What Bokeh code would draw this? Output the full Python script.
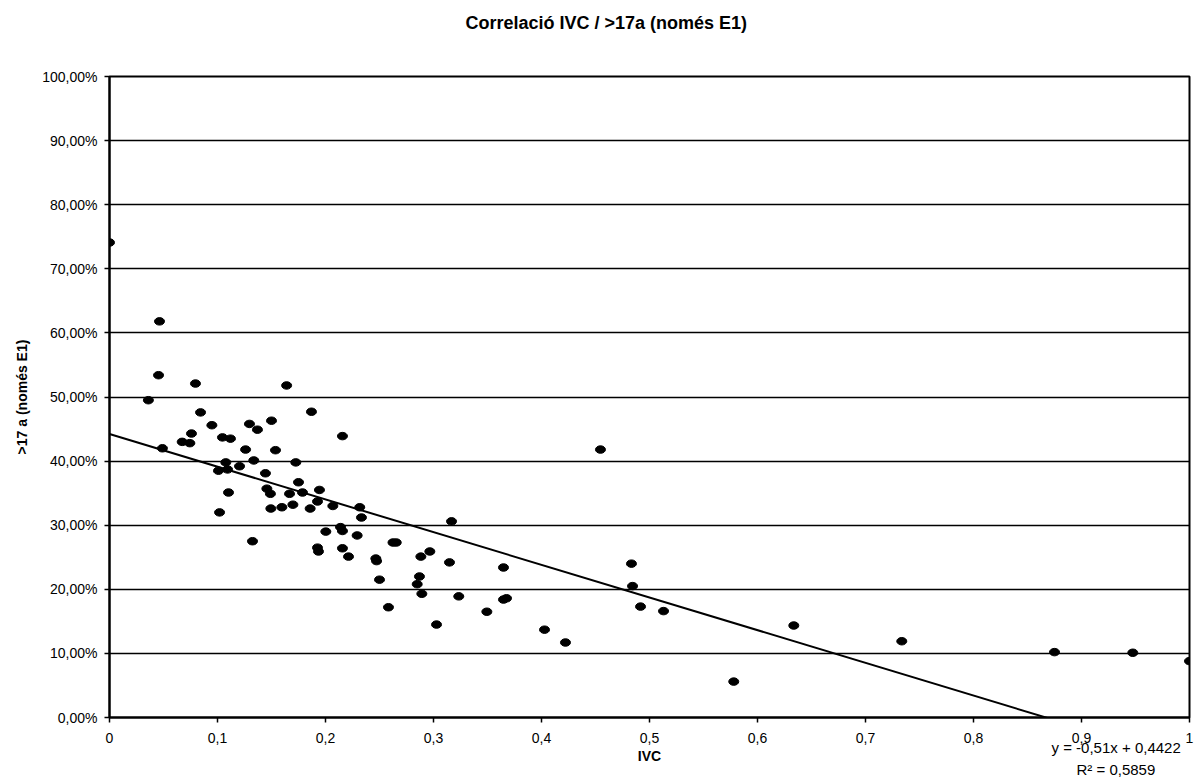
from bokeh.plotting import figure
from bokeh.models import Title, FixedTicker, CustomJSTickFormatter, Range1d
from bokeh.embed import file_html
from bokeh.resources import INLINE

# ---- data ----
ivc = [
    0.0000, 0.0463, 0.0454, 0.0796, 0.1640, 0.0360, 0.0843, 0.1870, 0.0948, 0.1296,
    0.1370, 0.1500, 0.2157, 0.0759, 0.0673, 0.0744, 0.0490, 0.1046, 0.1120, 0.1260,
    0.1537, 0.1077, 0.1336, 0.1725, 0.1009, 0.1093, 0.1204, 0.1444, 0.1750, 0.1457,
    0.1490, 0.1667, 0.1787, 0.1944, 0.1102, 0.1926, 0.2068, 0.1494, 0.1596, 0.1698,
    0.1858, 0.1019, 0.2139, 0.2157, 0.2003, 0.1324, 0.1926, 0.1935, 0.2157, 0.2213,
    0.2293, 0.2333, 0.2317, 0.2466, 0.2473, 0.2500, 0.2583, 0.2625, 0.2655, 0.3167,
    0.2883, 0.2966, 0.3148, 0.3648, 0.2870, 0.2849, 0.2892, 0.3234, 0.3648, 0.3676,
    0.3494, 0.3028, 0.4028, 0.4222, 0.4546, 0.4833, 0.4843, 0.4917, 0.5130, 0.5780,
    0.6336, 0.7336, 0.8750, 0.9475, 1.0000,
]
adults_17 = [
    0.741, 0.618, 0.534, 0.521, 0.518, 0.495, 0.476, 0.477, 0.456, 0.458,
    0.449, 0.463, 0.439, 0.443, 0.430, 0.428, 0.420, 0.437, 0.435, 0.418,
    0.417, 0.398, 0.401, 0.398, 0.385, 0.387, 0.392, 0.381, 0.367, 0.357,
    0.349, 0.349, 0.351, 0.355, 0.351, 0.337, 0.330, 0.326, 0.328, 0.332,
    0.326, 0.320, 0.297, 0.291, 0.290, 0.275, 0.265, 0.259, 0.264, 0.251,
    0.284, 0.312, 0.328, 0.248, 0.244, 0.215, 0.172, 0.273, 0.273, 0.306,
    0.251, 0.259, 0.242, 0.234, 0.220, 0.208, 0.193, 0.189, 0.184, 0.186,
    0.165, 0.145, 0.137, 0.117, 0.418, 0.240, 0.205, 0.173, 0.166, 0.056,
    0.1435, 0.119, 0.102, 0.101, 0.088,
]
trend_slope = -0.51
trend_intercept = 0.4422
trend_x = [0.0, 1.0]
x_ticks = [0, 0.1, 0.2, 0.3, 0.4, 0.5, 0.6, 0.7, 0.8, 0.9, 1]
y_ticks = [0, 0.1, 0.2, 0.3, 0.4, 0.5, 0.6, 0.7, 0.8, 0.9, 1.0]
title_text = "Correlació IVC / >17a (només E1)"
x_title = "IVC"
y_title = ">17 a (només E1)"
eq_text = "y = -0,51x + 0,4422"
r2_text = "R² = 0,5859"

FONT = "Liberation Sans"

p = figure(width=1195, height=780, x_range=Range1d(0, 1), y_range=Range1d(0, 1),
           output_backend="svg", toolbar_location=None,
           min_border_left=109, min_border_right=6, min_border_top=76, min_border_bottom=63)
p.background_fill_color = "white"
p.border_fill_color = "white"
p.outline_line_color = "black"
p.outline_line_width = 2

# ---- title block above the frame: spacer next to the frame, then the title ----
p.add_layout(Title(text=" ", text_font=FONT, text_font_size="14px", standoff=26,
                   vertical_align="bottom"), "above")
p.add_layout(Title(text=title_text, text_font=FONT, text_font_size="18px",
                   text_font_style="bold", text_color="black", align="left",
                   offset=356, standoff=0, vertical_align="bottom"), "above")

p.xgrid.visible = False
p.ygrid.grid_line_color = "black"
p.ygrid.grid_line_width = 1.3
p.ygrid.ticker = FixedTicker(ticks=y_ticks)

for ax in (p.xaxis[0], p.yaxis[0]):
    ax.axis_line_color = "black"
    ax.axis_line_width = 2
    ax.major_tick_line_color = "black"
    ax.major_tick_line_width = 1.5
    ax.major_tick_out = 5
    ax.major_tick_in = 0
    ax.minor_tick_line_color = None
    ax.major_label_text_font = FONT
    ax.major_label_text_font_size = "14px"
    ax.major_label_text_color = "black"
    ax.axis_label_text_font = FONT
    ax.axis_label_text_font_size = "14px"
    ax.axis_label_text_font_style = "bold"
    ax.axis_label_text_color = "black"

p.xaxis.ticker = FixedTicker(ticks=x_ticks)
p.xaxis.formatter = CustomJSTickFormatter(
    code="return parseFloat(tick.toFixed(1)).toString().replace('.', ',');")
p.xaxis.major_label_standoff = 10

p.yaxis.ticker = FixedTicker(ticks=y_ticks)
p.yaxis.formatter = CustomJSTickFormatter(
    code="return (tick*100).toFixed(2).replace('.', ',') + '%';")
p.yaxis.axis_label = y_title
p.yaxis.major_label_standoff = 7
p.yaxis.axis_label_standoff = 9

# ---- texts below the x axis: trendline equation, axis title, R² ----
p.add_layout(Title(text=eq_text, text_font=FONT, text_font_size="15px",
                   text_font_style="normal", text_color="black", align="left",
                   offset=942, standoff=-13, vertical_align="top"), "below")
p.add_layout(Title(text=x_title, text_font=FONT, text_font_size="14px",
                   text_font_style="bold", text_color="black", align="center",
                   standoff=-8, vertical_align="top"), "below")
p.add_layout(Title(text=r2_text, text_font=FONT, text_font_size="15px",
                   text_font_style="normal", text_color="black", align="left",
                   offset=967, standoff=-1, vertical_align="top"), "below")

# trend line
trend_y = [trend_slope * v + trend_intercept for v in trend_x]
p.line(trend_x, trend_y, line_color="black", line_width=2)

# points
p.ellipse(x=ivc, y=adults_17, width=10, height=7.5,
          width_units="screen", height_units="screen",
          fill_color="black", line_color="black")

open("out.html", "w").write(file_html(p, INLINE))
